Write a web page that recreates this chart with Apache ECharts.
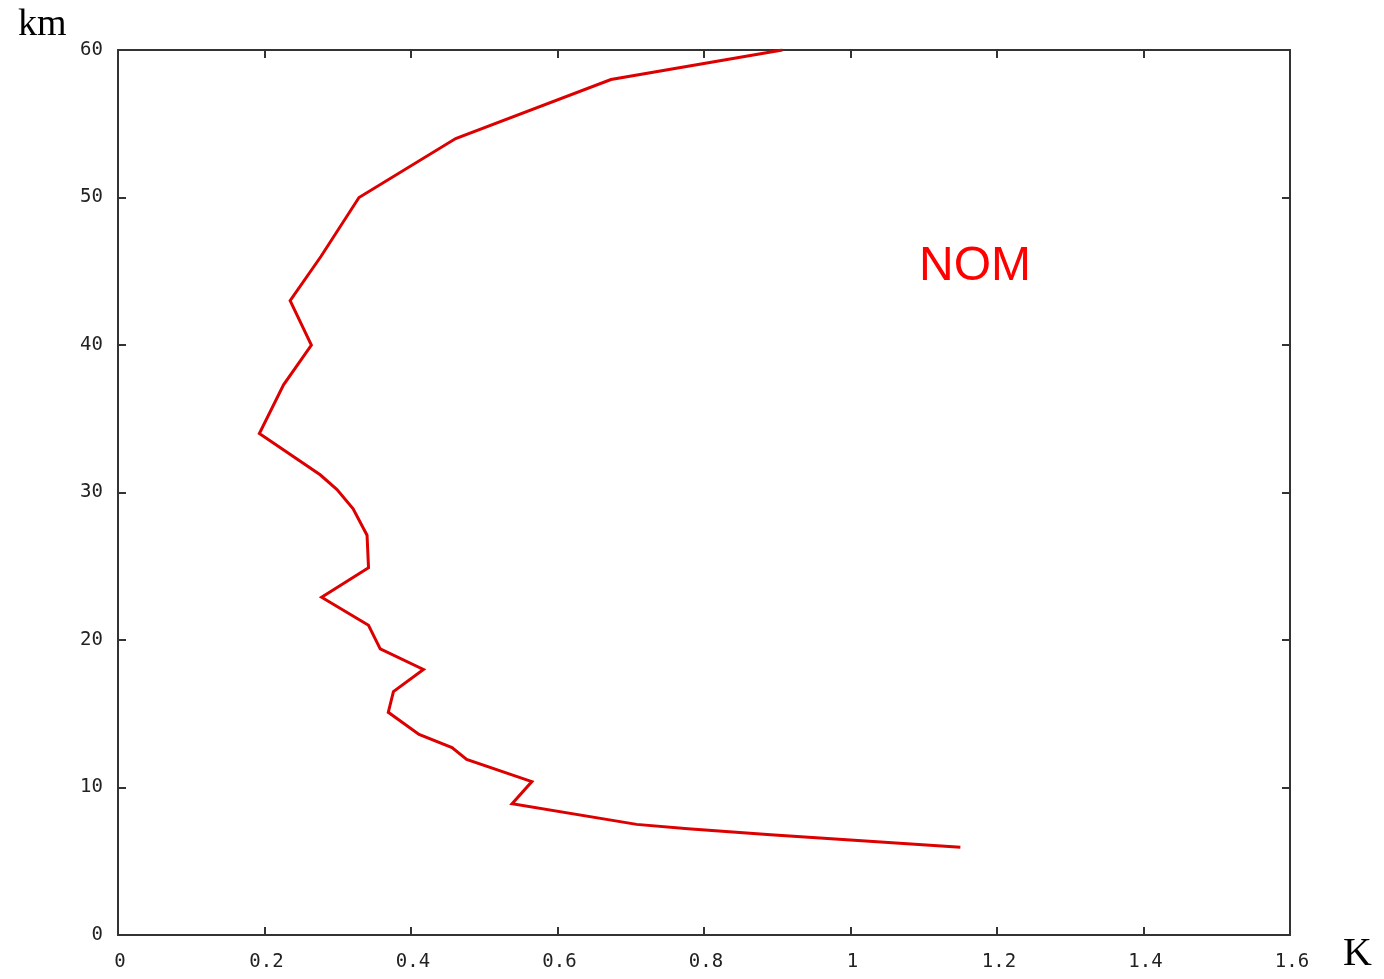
<!DOCTYPE html>
<html>
<head>
<meta charset="utf-8">
<title>NOM</title>
<script src="https://cdn.jsdelivr.net/npm/echarts@6/dist/echarts.min.js"></script>
<style>
  html, body { margin: 0; padding: 0; background: #fff; }
  #chart { width: 1384px; height: 979px; }
</style>
</head>
<body>
<div id="chart"></div>
<script>
// Profile: value in K against altitude in km
const kelvin = [0.907, 0.673, 0.461, 0.329, 0.277, 0.235, 0.264, 0.226, 0.193, 0.276, 0.299, 0.321, 0.340, 0.342,
                0.278, 0.342, 0.358, 0.417, 0.376, 0.369, 0.411, 0.456, 0.476, 0.565, 0.538, 0.708, 0.778, 0.891, 1.150];
const altitude = [60, 58, 54, 50, 46, 43, 40, 37.3, 34, 31.2, 30.2, 28.9, 27.1, 24.9,
                  22.9, 21, 19.4, 18, 16.5, 15.1, 13.6, 12.7, 11.9, 10.4, 8.9, 7.5, 7.2, 6.8, 5.95];
const xTicks = [0, 0.2, 0.4, 0.6, 0.8, 1, 1.2, 1.4, 1.6];
const yTicks = [0, 10, 20, 30, 40, 50, 60];
const seriesName = 'NOM';

const points = kelvin.map((k, i) => [k, altitude[i]]);

const axisColor = '#333';
const tickFont = { fontFamily: 'DejaVu Sans Mono', fontSize: 19, color: '#222' };

function baseAxis(extra) {
  return Object.assign({
    type: 'value',
    axisLine: { show: true, onZero: false, lineStyle: { color: axisColor, width: 2 } },
    axisTick: { show: true, inside: true, length: 8, lineStyle: { color: axisColor, width: 2 } },
    splitLine: { show: false }
  }, extra);
}

const chart = echarts.init(document.getElementById('chart'), null, { renderer: 'canvas' });
chart.setOption({
  backgroundColor: '#fff',
  animation: false,
  grid: { left: 118, right: 94, top: 50, bottom: 44, containLabel: false },
  xAxis: [
    baseAxis({
      position: 'bottom', min: xTicks[0], max: xTicks[xTicks.length - 1], interval: 0.2,
      axisLabel: Object.assign({ margin: 18, padding: [0, 0, 0, 4], formatter: v => String(+v.toFixed(1)) }, tickFont)
    }),
    baseAxis({
      position: 'top', min: xTicks[0], max: xTicks[xTicks.length - 1], interval: 0.2,
      axisLabel: { show: false }
    })
  ],
  yAxis: [
    baseAxis({
      position: 'left', min: yTicks[0], max: yTicks[yTicks.length - 1], interval: 10,
      axisLabel: Object.assign({ margin: 15 }, tickFont)
    }),
    baseAxis({
      position: 'right', min: yTicks[0], max: yTicks[yTicks.length - 1], interval: 10,
      axisLabel: { show: false }
    })
  ],
  series: [{
    name: seriesName,
    type: 'line',
    xAxisIndex: 0,
    yAxisIndex: 0,
    data: points,
    showSymbol: false,
    symbol: 'none',
    lineStyle: { color: '#dd0000', width: 3, join: 'miter' }
  }],
  graphic: [
    { type: 'text', left: 18, top: 6,
      style: { text: 'km', font: '38px "Liberation Serif"', fill: '#000' } },
    { type: 'text', left: 1343, top: 934,
      style: { text: 'K', font: '40px "Liberation Serif"', fill: '#000' } },
    { type: 'text', left: 919, top: 243,
      style: { text: seriesName, font: '48px "Liberation Sans"', fill: '#ff0000' } }
  ]
});
</script>
</body>
</html>
